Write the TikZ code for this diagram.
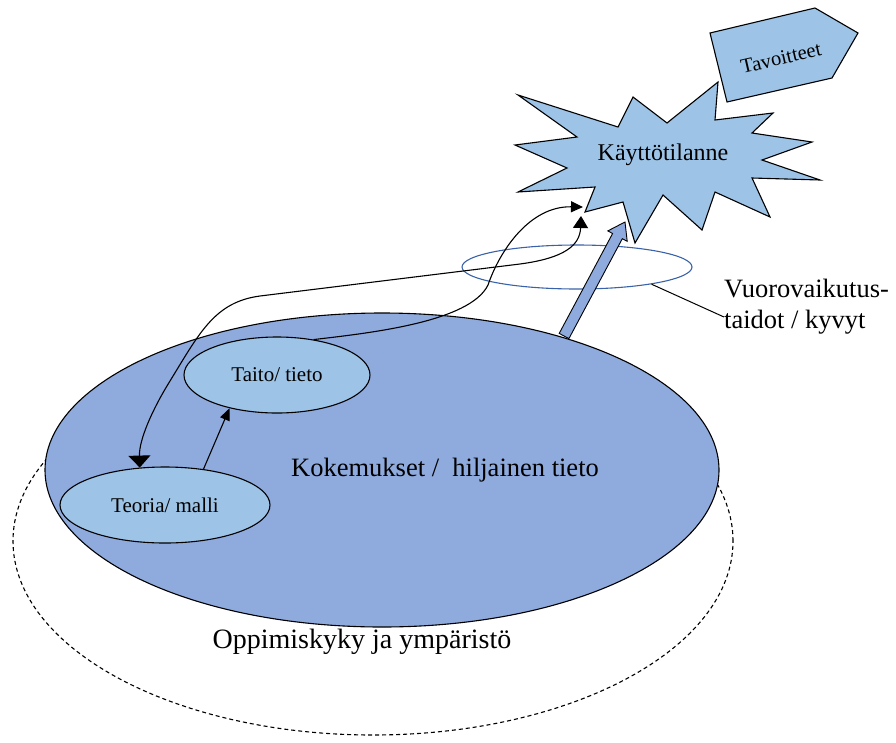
\documentclass[tikz,border=0pt]{standalone}
\usepackage{fontspec}
\setmainfont{Liberation Serif}
\usetikzlibrary{shapes.geometric,arrows.meta}
\definecolor{expfill}{HTML}{8FAADC}
\definecolor{softblue}{HTML}{9DC3E6}
\definecolor{ringblue}{HTML}{3A62A8}
\begin{document}
\begin{tikzpicture}[x=1pt,y=-1pt,
  outline/.style={draw=black, line width=1.1pt},
  oval/.style={ellipse, inner sep=0pt, outline},
  link/.style={draw=black, line width=1.1pt},
  txt/.style={inner sep=0pt, text=black}]
\useasboundingbox (0,0) rectangle (896,742);

% outer dashed region and the large experience ellipse
\node[ellipse, draw=black, line width=1.1pt, dash pattern=on 4pt off 3pt,
      minimum width=720pt, minimum height=388pt, inner sep=0pt] (ymp) at (373,541) {};
\node[oval, fill=expfill, minimum width=674pt, minimum height=314pt] (koke) at (382,470) {};

% inner knowledge ellipses
\node[oval, fill=softblue, minimum width=186pt, minimum height=76pt,
      font=\fontsize{21}{24}\selectfont] (taito) at (277,375) {Taito/ tieto};
\node[oval, fill=softblue, minimum width=210pt, minimum height=76pt,
      font=\fontsize{21}{24}\selectfont] (teoria) at (165,505) {Teoria/ malli};

% interaction ring
\node[ellipse, draw=ringblue, line width=1.1pt, minimum width=230pt,
      minimum height=44pt, inner sep=0pt] (vuoro) at (577,267) {};

% situation starburst
\draw[outline, fill=softblue, line join=miter]
  (518,95) -- (618,127) -- (633,97) -- (667,123) -- (718,82) -- (715,120)
  -- (773,113) -- (752,133) -- (812,142) -- (762,160) -- (820,180)
  -- (752,178) -- (770,217) -- (715,192) -- (702,230) -- (663,195)
  -- (635,243) -- (623,202) -- (585,212) -- (595,187) -- (518,192)
  -- (567,168) -- (515,145) -- (577,137) -- cycle;
\node[txt, font=\fontsize{24}{28}\selectfont] (kaytto) at (663,155) {Käyttötilanne};

% goals pentagon
\draw[outline, fill=softblue]
  (710,33) -- (815,8) -- (858,33) -- (832,78) -- (727,102) -- cycle;
\node[txt, rotate=13, font=\fontsize{20.5}{24}\selectfont] (tavo) at (781,58) {Tavoitteet};

% block arrow from experience to the situation
\draw[line width=0.9pt, draw=black, fill=expfill, line join=miter]
  (559.2,333.4) -- (612.6,233.5) -- (607.8,230.9) -- (625,222)
  -- (627.2,241.3) -- (622.3,238.7) -- (568.9,338.6) -- cycle;

% connectors
\coordinate (kin) at (581,216);
\coordinate (kright) at (583,207);
\draw[link, {Triangle[length=12pt,width=22pt]}-{Triangle[length=12pt,width=15pt]}]
  (teoria.124) .. controls (139,440) and (152,410) .. (170,381)
  .. controls (200,332) and (215,302) .. (260,296)
  -- (520,264)
  .. controls (565,258) and (580,245) .. (kin);
\draw[link, -{Triangle[length=12pt,width=11pt]}]
  (taito.44) .. controls (370,333) and (470,322) .. (488,285)
  .. controls (500,250) and (530,206) .. (kright);
\draw[link, -{Triangle[length=12pt,width=10pt]}] (teoria.43) -- (taito.215);

% labels
\coordinate (vlab) at (724,317);
\draw[line width=1pt] (vuoro.-13) -- (vlab);
\node[txt, anchor=west, align=left, font=\fontsize{26.5}{31}\selectfont] (vtxt) at (724,307)
  {Vuorovaikutus-\\taidot / kyvyt};
\node[txt, font=\fontsize{26.5}{30}\selectfont] (ktxt) at (445,470) {Kokemukset /\ \ hiljainen tieto};
\node[txt, font=\fontsize{28}{32}\selectfont] (otxt) at (362,642) {Oppimiskyky ja ympäristö};
\end{tikzpicture}
\end{document}
